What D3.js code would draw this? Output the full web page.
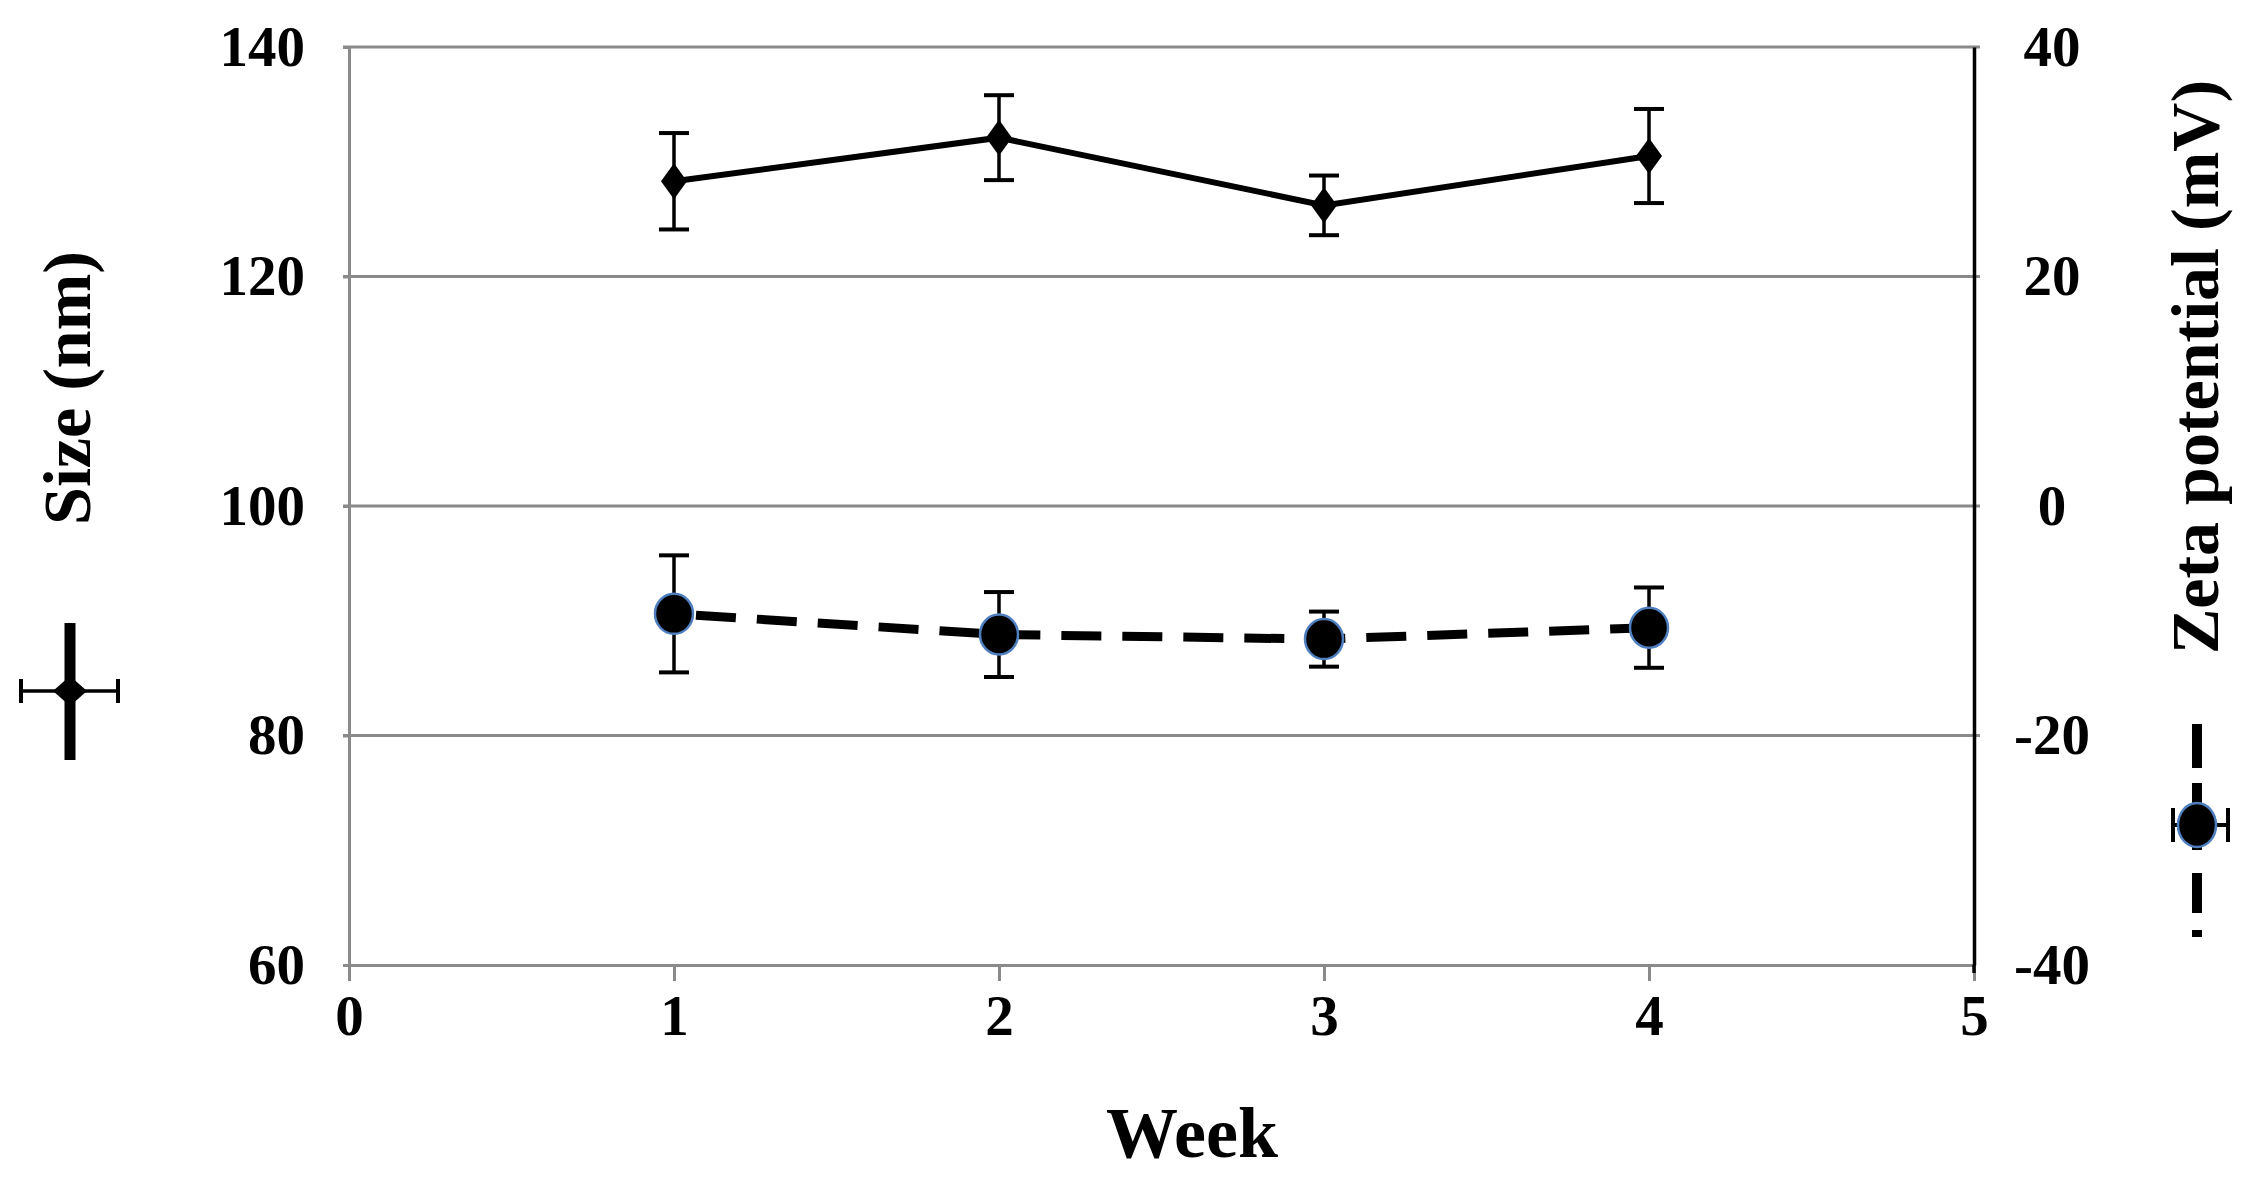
<!DOCTYPE html>
<html><head><meta charset="utf-8">
<script src="https://cdn.jsdelivr.net/npm/d3@7"></script>
<style>html,body{margin:0;padding:0;background:#fff;overflow:hidden}</style>
</head><body>
<script>
const weeks = [1, 2, 3, 4];
const sizeMean = [128.3, 132.1, 126.2, 130.5];
const sizeErr = [4.2, 3.7, 2.6, 4.1];
const zetaMean = [-9.4, -11.2, -11.6, -10.6];
const zetaErr = [5.1, 3.7, 2.4, 3.5];
const xTicks = [0, 1, 2, 3, 4, 5];
const leftTicks = [60, 80, 100, 120, 140];
const rightTicks = [-40, -20, 0, 20, 40];

const W = 2255, H = 1179;
const L = 349, R = 1974, T = 47, B = 965;
const FONT = "'Liberation Serif','Times New Roman',serif";
const GRAY = "#8a8a8a";

const svg = d3.select("body").append("svg").attr("width", W).attr("height", H)
  .style("font-family", FONT);

const x = d3.scaleLinear().domain([0, 5]).range([L, R]);
const yL = d3.scaleLinear().domain([60, 140]).range([B, T]);
const yR = d3.scaleLinear().domain([-40, 40]).range([B, T]);

// gridlines
svg.append("g").selectAll("line").data(leftTicks.filter(d => d > 60)).join("line")
  .attr("x1", L - 6).attr("x2", R + 6).attr("y1", d => yL(d)).attr("y2", d => yL(d))
  .attr("stroke", GRAY).attr("stroke-width", 3);

// left axis
const axL = svg.append("g").attr("transform", `translate(${L},0)`)
  .call(d3.axisLeft(yL).tickValues(leftTicks).tickSize(6).tickPadding(38).tickFormat(d => String(d)));
axL.select(".domain").attr("stroke", GRAY).attr("stroke-width", 3);
axL.selectAll(".tick line").attr("stroke", GRAY).attr("stroke-width", 3);
axL.selectAll(".tick text").attr("font-size", 57).attr("font-weight", "bold")
  .attr("font-family", FONT).attr("fill", "#000");

// bottom axis
const axB = svg.append("g").attr("transform", `translate(0,${B})`)
  .call(d3.axisBottom(x).tickValues(xTicks).tickSize(16).tickPadding(14).tickFormat(d => String(d)));
axB.select(".domain").attr("stroke", GRAY).attr("stroke-width", 3);
axB.selectAll(".tick line").attr("stroke", GRAY).attr("stroke-width", 3);
axB.selectAll(".tick text").attr("font-size", 57).attr("font-weight", "bold")
  .attr("font-family", FONT).attr("fill", "#000");

// right axis (labels centred, hyphen minus like the original)
const axR = svg.append("g").attr("transform", `translate(${R},0)`)
  .call(d3.axisRight(yR).tickValues(rightTicks).tickSize(0).tickPadding(78).tickFormat(d => String(d)));
axR.select(".domain").attr("stroke", "#000").attr("stroke-width", 3.5);
axR.selectAll(".tick text").attr("font-size", 57).attr("font-weight", "bold")
  .attr("font-family", FONT).attr("fill", "#000").attr("text-anchor", "middle");
svg.append("line").attr("x1", R).attr("x2", R).attr("y1", B).attr("y2", B + 8)
  .attr("stroke", "#000").attr("stroke-width", 3.5);

const sizeData = weeks.map((w, i) => ({w, m: sizeMean[i], e: sizeErr[i]}));
const zetaData = weeks.map((w, i) => ({w, m: zetaMean[i], e: zetaErr[i]}));
const cap = 15;

function errBars(data, y) {
  const g = svg.append("g").attr("stroke", "#000");
  g.selectAll(".v").data(data).join("line")
    .attr("x1", d => x(d.w)).attr("x2", d => x(d.w))
    .attr("y1", d => y(d.m + d.e)).attr("y2", d => y(d.m - d.e)).attr("stroke-width", 3.5);
  g.selectAll(".t").data(data).join("line")
    .attr("x1", d => x(d.w) - cap).attr("x2", d => x(d.w) + cap)
    .attr("y1", d => y(d.m + d.e)).attr("y2", d => y(d.m + d.e)).attr("stroke-width", 4);
  g.selectAll(".b").data(data).join("line")
    .attr("x1", d => x(d.w) - cap).attr("x2", d => x(d.w) + cap)
    .attr("y1", d => y(d.m - d.e)).attr("y2", d => y(d.m - d.e)).attr("stroke-width", 4);
}

errBars(sizeData, yL);
errBars(zetaData, yR);

svg.append("path").datum(sizeData)
  .attr("d", d3.line().x(d => x(d.w)).y(d => yL(d.m)))
  .attr("fill", "none").attr("stroke", "#000").attr("stroke-width", 6);

svg.append("path").datum(zetaData)
  .attr("d", d3.line().x(d => x(d.w)).y(d => yR(d.m)))
  .attr("fill", "none").attr("stroke", "#000").attr("stroke-width", 9)
  .attr("stroke-dasharray", "40,21").attr("stroke-dashoffset", -22);

const diamond = (cx, cy, hw, hh) => `M${cx},${cy - hh}L${cx + hw},${cy}L${cx},${cy + hh}L${cx - hw},${cy}Z`;
svg.append("g").selectAll("path").data(sizeData).join("path")
  .attr("d", d => diamond(x(d.w), yL(d.m), 13, 18)).attr("fill", "#000");

svg.append("g").selectAll("ellipse").data(zetaData).join("ellipse")
  .attr("cx", d => x(d.w)).attr("cy", d => yR(d.m)).attr("rx", 19).attr("ry", 20)
  .attr("fill", "#000").attr("stroke", "#4f7fbf").attr("stroke-width", 2.5);

// axis titles
svg.append("text").attr("transform", "translate(90,388) rotate(-90)")
  .attr("text-anchor", "middle").attr("font-size", 68).attr("font-weight", "bold").text("Size (nm)");
svg.append("text").attr("transform", "translate(2218,367) rotate(-90)")
  .attr("text-anchor", "middle").attr("font-size", 68).attr("font-weight", "bold").text("Zeta potential (mV)");
svg.append("text").attr("x", 1192).attr("y", 1157)
  .attr("text-anchor", "middle").attr("font-size", 72).attr("font-weight", "bold").text("Week");

// rotated legend symbols
const lg = svg.append("g");
lg.append("line").attr("x1", 70).attr("x2", 70).attr("y1", 623).attr("y2", 760)
  .attr("stroke", "#000").attr("stroke-width", 11);
lg.append("line").attr("x1", 20).attr("x2", 119).attr("y1", 691).attr("y2", 691)
  .attr("stroke", "#000").attr("stroke-width", 3.5);
lg.append("line").attr("x1", 21).attr("x2", 21).attr("y1", 679).attr("y2", 703)
  .attr("stroke", "#000").attr("stroke-width", 4);
lg.append("line").attr("x1", 118).attr("x2", 118).attr("y1", 679).attr("y2", 703)
  .attr("stroke", "#000").attr("stroke-width", 4);
lg.append("path").attr("d", diamond(70, 691, 17, 15)).attr("fill", "#000");

const rg = svg.append("g");
rg.append("line").attr("x1", 2197).attr("x2", 2197).attr("y1", 724).attr("y2", 937)
  .attr("stroke", "#000").attr("stroke-width", 10).attr("stroke-dasharray", "44,15,67,23,40,17,7");
rg.append("line").attr("x1", 2173).attr("x2", 2228).attr("y1", 825).attr("y2", 825)
  .attr("stroke", "#000").attr("stroke-width", 4);
rg.append("line").attr("x1", 2173).attr("x2", 2173).attr("y1", 808).attr("y2", 842)
  .attr("stroke", "#000").attr("stroke-width", 4);
rg.append("line").attr("x1", 2228).attr("x2", 2228).attr("y1", 808).attr("y2", 842)
  .attr("stroke", "#000").attr("stroke-width", 4);
rg.append("ellipse").attr("cx", 2197).attr("cy", 825).attr("rx", 19).attr("ry", 22)
  .attr("fill", "#000").attr("stroke", "#4f7fbf").attr("stroke-width", 2.5);
</script>
</body></html>
